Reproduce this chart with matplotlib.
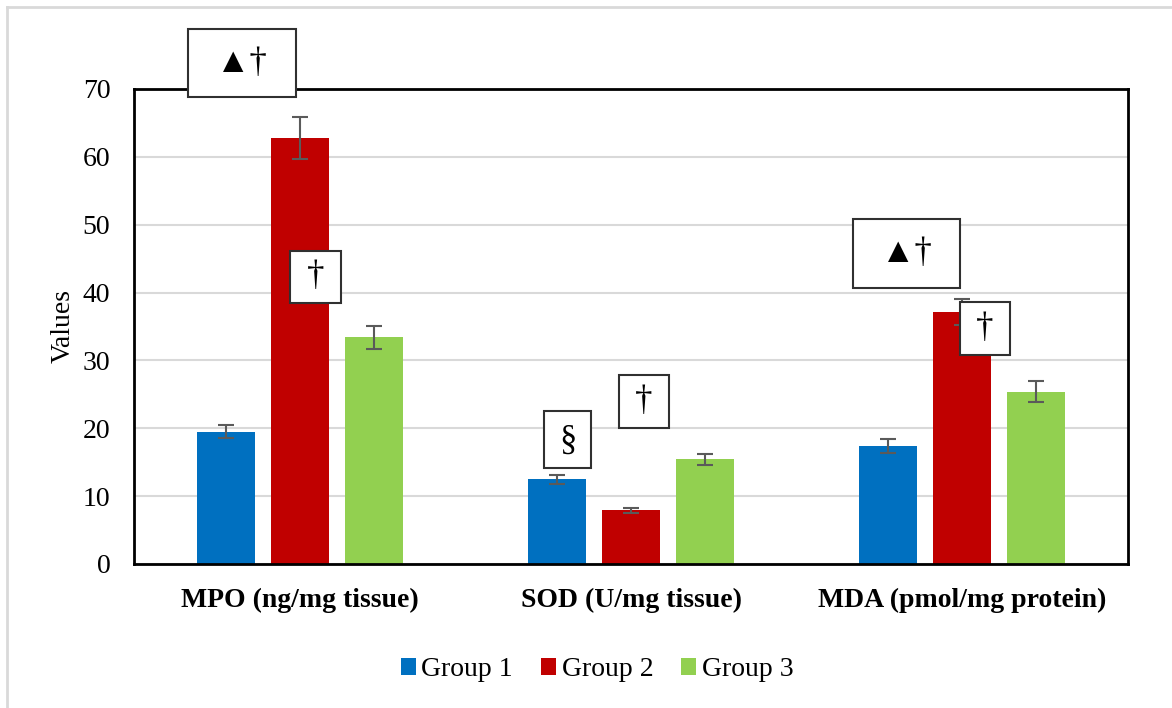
import matplotlib.pyplot as plt
from matplotlib.patches import Rectangle
from matplotlib.lines import Line2D
import numpy as np

categories = ['MPO (ng/mg tissue)', 'SOD (U/mg tissue)', 'MDA (pmol/mg protein)']
groups = ['Group 1', 'Group 2', 'Group 3']
group1 = [19.5, 12.5, 17.4]
group2 = [62.8, 7.9, 37.1]
group3 = [33.4, 15.4, 25.4]
err1 = [1.0, 0.65, 1.0]
err2 = [3.1, 0.4, 1.9]
err3 = [1.7, 0.8, 1.5]
colors = ['#0070c0', '#c00000', '#92d050']

# significance marks: text, box (x0, x1, y0, y1) in data units
marks = [
    ('▲†', (-0.337, -0.011, 68.8, 78.8)),
    ('†', (-0.029, 0.125, 38.5, 46.1)),
    ('§', (0.738, 0.879, 14.1, 22.5)),
    ('†', (0.964, 1.115, 20.0, 27.9)),
    ('▲†', (1.670, 1.993, 40.7, 50.8)),
    ('†', (1.993, 2.144, 30.8, 38.6)),
]

plt.rcParams['font.family'] = ['Liberation Serif', 'DejaVu Sans']

fig = plt.figure(figsize=(11.72, 7.08), dpi=100)
ax = fig.add_axes([0.1143, 0.2034, 0.8482, 0.6709])

x = np.arange(len(categories))
width = 0.175
offset = 0.223
values = [group1, group2, group3]
errors = [err1, err2, err3]
for i in range(3):
    ax.bar(x + (i - 1) * offset, values[i], width, color=colors[i], label=groups[i], zorder=2)
    ax.errorbar(x + (i - 1) * offset, values[i], yerr=errors[i], fmt='none',
                ecolor='#5a5a5a', elinewidth=1.5, capsize=6, capthick=1.5, zorder=3)

ax.set_xlim(-0.5, 2.5)
ax.set_ylim(0, 70)
ax.set_yticks(range(0, 71, 10))
ax.set_xticks(x)
ax.set_xticklabels(categories, fontsize=20, fontweight='bold')
ax.tick_params(axis='x', length=0, pad=17)
ax.tick_params(axis='y', length=0, pad=17, labelsize=20)
ax.set_ylabel('Values', fontsize=20, labelpad=5)
ax.grid(axis='y', color='#d9d9d9', linewidth=1.5, zorder=0)
ax.set_axisbelow(True)
for s in ax.spines.values():
    s.set_linewidth(2)
    s.set_color('black')

for txt, (x0, x1, y0, y1) in marks:
    ax.add_patch(Rectangle((x0, y0), x1 - x0, y1 - y0, facecolor='white',
                           edgecolor='#303030', linewidth=1.5, zorder=5, clip_on=False))
    ax.text((x0 + x1) / 2, (y0 + y1) / 2, txt, ha='center', va='center',
            fontsize=25, zorder=6, clip_on=False)

fig.legend(loc='center', bbox_to_anchor=(597 / 1172, 1 - 670 / 708), ncol=3,
           frameon=False, fontsize=20, handlelength=0.55, handleheight=0.55,
           handletextpad=0.2, columnspacing=1.0)

# light border around the chart area
fig.add_artist(Line2D([7 / 1172, 7 / 1172], [0, 1 - 7 / 708], color='#d9d9d9', linewidth=2))
fig.add_artist(Line2D([7 / 1172, 1], [1 - 7 / 708, 1 - 7 / 708], color='#d9d9d9', linewidth=2))

fig.savefig('out.png', dpi=100)
